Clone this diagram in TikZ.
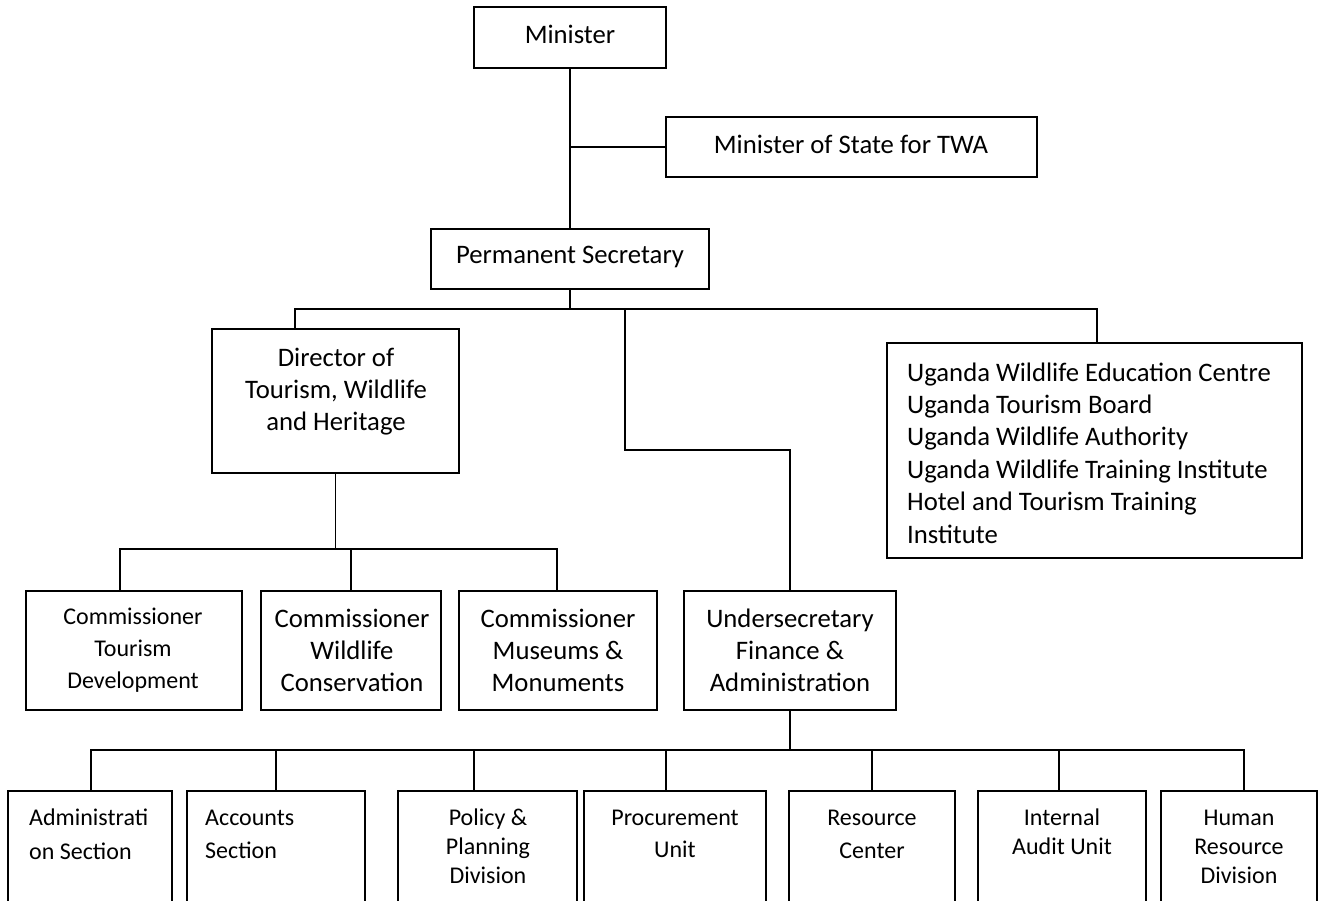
\documentclass[tikz,border=0pt]{standalone}
\usepackage{fontspec}
\setmainfont{Carlito}
\newcommand\fTop{\fontsize{26.7}{32}\selectfont}
\newcommand\fSmall{\fontsize{24}{32}\selectfont}
\begin{document}
\begin{tikzpicture}[x=1pt,y=-1pt,
  box/.style={draw, line width=2pt, inner sep=0, outer sep=0, anchor=north west},
  conn/.style={line width=1.5pt},
  txt/.style={inner sep=0, anchor=north, align=center},
  ltxt/.style={inner sep=0, anchor=north west, align=left}]
\clip (0,0) rectangle (1321,900);
\fill[white] (0,0) rectangle (1321,900);
% boxes
\node[box, minimum width=192pt, minimum height=61pt] (min) at (474,7) {};
\node[box, minimum width=371pt, minimum height=60pt] (mos) at (666,117) {};
\node[box, minimum width=278pt, minimum height=60pt] (ps) at (431,229) {};
\node[box, minimum width=247pt, minimum height=144pt] (dir) at (212,329) {};
\node[box, minimum width=415pt, minimum height=215pt] (ug) at (887,343) {};
\node[box, minimum width=216pt, minimum height=119pt] (ctd) at (26,591) {};
\node[box, minimum width=180pt, minimum height=119pt] (cwc) at (261,591) {};
\node[box, minimum width=198pt, minimum height=119pt] (cmm) at (459,591) {};
\node[box, minimum width=212pt, minimum height=119pt] (us) at (684,591) {};
\node[box, minimum width=164pt, minimum height=140pt] (adm) at (8,791) {};
\node[box, minimum width=178pt, minimum height=140pt] (acc) at (187,791) {};
\node[box, minimum width=179pt, minimum height=140pt] (pol) at (398,791) {};
\node[box, minimum width=182pt, minimum height=140pt] (pro) at (584,791) {};
\node[box, minimum width=166pt, minimum height=140pt] (res) at (789,791) {};
\node[box, minimum width=168pt, minimum height=140pt] (ia) at (978,791) {};
\node[box, minimum width=156pt, minimum height=140pt] (hr) at (1161,791) {};
% texts
\node[txt, font=\fTop] (tmin) at (570,43-22.4) {\strut Minister};
\node[txt, font=\fTop] (tmos) at (851,153-22.4) {\strut Minister of State for TWA};
\node[txt, font=\fTop] (tps) at (570,263-22.4) {\strut Permanent Secretary};
\node[txt, font=\fTop] (tdir) at (336,366-22.4) {\strut Director of\\\strut Tourism, Wildlife\\\strut and Heritage};
\node[ltxt, font={\fontsize{26.7}{32.4}\selectfont}] (tug) at (907,381-22.7) {\strut Uganda Wildlife Education Centre\\\strut Uganda Tourism Board\\\strut Uganda Wildlife Authority\\\strut Uganda Wildlife Training Institute\\\strut Hotel and Tourism Training\\\strut Institute};
\node[txt, font=\fSmall] (tctd) at (133,624-22.4) {\strut Commissioner\\\strut Tourism\\\strut Development};
\node[txt, font=\fTop] (tcwc) at (352,627-22.4) {\strut Commissioner\\\strut Wildlife\\\strut Conservation};
\node[txt, font=\fTop] (tcmm) at (558,627-22.4) {\strut Commissioner\\\strut Museums \&\\\strut Monuments};
\node[txt, font=\fTop] (tus) at (790,627-22.4) {\strut Undersecretary\\\strut Finance \&\\\strut Administration};
\node[ltxt, font={\fontsize{24}{34}\selectfont}] (tadm) at (29,825-23.8) {\strut Administrati\\\strut on Section};
\node[ltxt, font={\fontsize{24}{33}\selectfont}] (tacc) at (205,825-23.1) {\strut Accounts\\\strut Section};
\node[txt, font={\fontsize{24}{29}\selectfont}] (tpol) at (488,825-20.3) {\strut Policy \&\\\strut Planning\\\strut Division};
\node[txt, font={\fontsize{24}{32}\selectfont}] (tpro) at (675,825-22.4) {\strut Procurement\\\strut Unit};
\node[txt, font={\fontsize{24}{33}\selectfont}] (tres) at (872,825-23.1) {\strut Resource\\\strut Center};
\node[txt, font={\fontsize{24}{29}\selectfont}] (tia) at (1062,825-20.3) {\strut Internal\\\strut Audit Unit};
\node[txt, font={\fontsize{24}{29}\selectfont}] (thr) at (1239,825-20.3) {\strut Human\\\strut Resource\\\strut Division};
% connectors
\draw[conn] (min.south) -- (ps.north);
\draw[conn] (mos.west) -- (mos.west -| min.south);
\coordinate (d1) at (295,309);
\coordinate (d2) at (625,309);
\coordinate (d3) at (1097,309);
\coordinate (k) at (625,450);
\draw[conn] (ps.south) -- (ps.south |- d1);
\draw[conn] (dir.north -| d1) -- (d1) -- (d3) -- (ug.north -| d3);
\draw[conn] (d2) -- (k) -| (us.north);
\coordinate (b2) at (336,549);
\coordinate (c1) at (120,549);
\coordinate (c3) at (557,549);
\draw[conn] (dir.south) -- (dir.south |- b2);
\draw[conn] (ctd.north -| c1) -- (c1) -- (c3) -- (cmm.north -| c3);
\draw[conn] (cwc.north) -- (cwc.north |- b2);
\coordinate (b3) at (790,750);
\coordinate (e1) at (91,750);
\coordinate (e2) at (276,750);
\coordinate (e3) at (474,750);
\coordinate (e4) at (666,750);
\coordinate (e5) at (872,750);
\coordinate (e6) at (1059,750);
\coordinate (e7) at (1244,750);
\draw[conn] (us.south) -- (us.south |- b3);
\draw[conn] (adm.north -| e1) -- (e1) -- (e7) -- (hr.north -| e7);
\draw[conn] (acc.north -| e2) -- (e2);
\draw[conn] (pol.north -| e3) -- (e3);
\draw[conn] (pro.north -| e4) -- (e4);
\draw[conn] (res.north -| e5) -- (e5);
\draw[conn] (ia.north -| e6) -- (e6);
\end{tikzpicture}
\end{document}
